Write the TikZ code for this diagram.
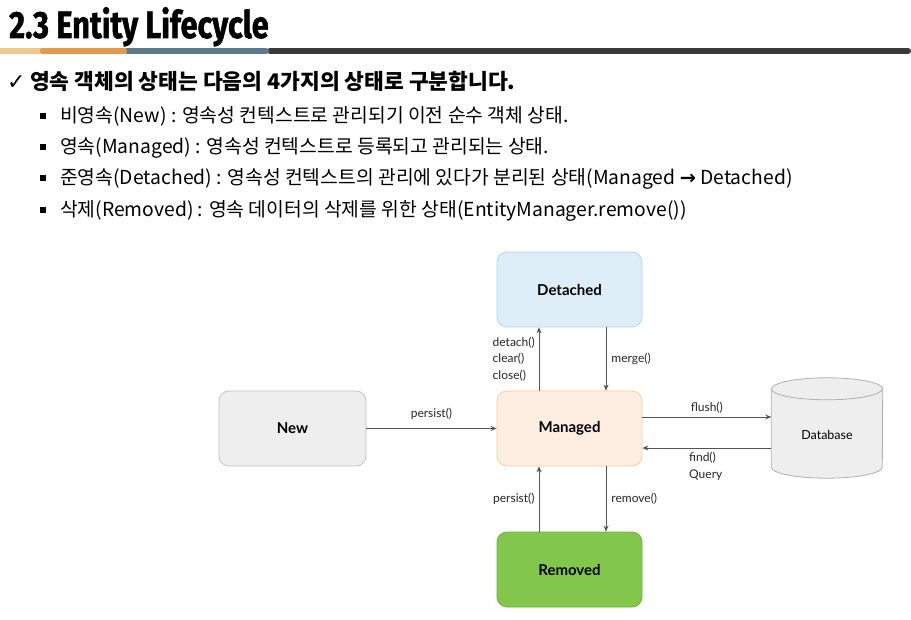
\documentclass[tikz,border=0pt]{standalone}
\usepackage{fontspec}
\setmainfont{Lato}
\newfontfamily\kr{Noto Sans CJK KR}
\newfontfamily\titlefont[FakeBold=1.5]{Fira Sans}
\newfontfamily\symfont{DejaVu Sans}
\usetikzlibrary{arrows.meta,calc}
\definecolor{arrowgray}{HTML}{555555}
\definecolor{detfill}{HTML}{DDEEF8}
\definecolor{detdraw}{HTML}{B3D7EE}
\definecolor{manfill}{HTML}{FDEEE1}
\definecolor{mandraw}{HTML}{F7CF9F}
\definecolor{newfill}{HTML}{EEEEEE}
\definecolor{newdraw}{HTML}{C4C4C4}
\definecolor{remfill}{HTML}{83C64C}
\definecolor{remdraw}{HTML}{6DB53C}
\definecolor{dbfill}{HTML}{EEEEEE}
\definecolor{dbdraw}{HTML}{B0B0B0}
\definecolor{barA}{HTML}{F0C98C}
\definecolor{barB}{HTML}{E09B4C}
\definecolor{barC}{HTML}{5B7B8D}
\definecolor{barD}{HTML}{3A3A3A}
\tikzset{
  state/.style={rounded corners=10pt, minimum width=145pt, minimum height=75pt,
    font=\fontsize{15}{18}\selectfont\bfseries, line width=0.8pt},
  arr/.style={draw=arrowgray, line width=0.9pt, -{Stealth[length=6pt,width=5pt]}},
  lbl/.style={font=\fontsize{12}{14}\selectfont, inner sep=0pt, text=black!85},
  head/.style={font=\kr\fontsize{19.3}{21}\selectfont, anchor=base west, inner sep=0pt},
  bul/.style={fill=black, minimum size=5.5pt, inner sep=0pt}
}
\begin{document}
\begin{tikzpicture}[x=1pt,y=-1pt]
\useasboundingbox[fill=white] (0,0) rectangle (911,620);
% title
\node[anchor=base west, inner sep=0pt, font=\titlefont\fontsize{38}{42}\selectfont\bfseries] (title) at (9,38) {\scalebox{0.81}[1]{2.3 Entity Lifecycle}};
% bar
\draw[barD, line width=6pt, line cap=round] (270,51) -- (908,51);
\draw[barC, line width=6pt, line cap=round] (127,51) -- (266,51);
\draw[barB, line width=6pt, line cap=round] (42,51) -- (124,51);
\draw[barA, line width=6pt] (0,51) -- (40,51);
% check line
\node[anchor=base west, inner sep=0pt, font=\symfont\fontsize{22}{24}\selectfont\bfseries] (chk) at (7,90) {✓};
\node[anchor=base west, inner sep=0pt, font=\kr\fontsize{21.5}{24}\selectfont\bfseries] (l0) at (30,90) {영속 객체의 상태는 다음의 4가지의 상태로 구분합니다.};
% bullets
\node[bul] (b1) at (43,116) {};
\node[bul] (b2) at (43,147) {};
\node[bul] (b3) at (43,178) {};
\node[bul] (b4) at (43,210) {};
\node[head] (l1) at (60,123) {비영속(New) : 영속성 컨텍스트로 관리되기 이전 순수 객체 상태.};
\node[head] (l2) at (60,154) {영속(Managed) : 영속성 컨텍스트로 등록되고 관리되는 상태.};
\node[head] (l3) at (60,185) {준영속(Detached) : 영속성 컨텍스트의 관리에 있다가 분리된 상태(Managed {\symfont\bfseries →} Detached)};
\node[head] (l4) at (60,217) {삭제(Removed) : 영속 데이터의 삭제를 위한 상태(EntityManager.remove())};
% states
\node[state, fill=detfill, draw=detdraw] (det) at (569.5,289.5) {Detached};
\node[state, fill=manfill, draw=mandraw] (man) at (569.5,428.5) {Managed};
\node[state, fill=newfill, draw=newdraw, minimum width=147pt] (new) at (292.5,428.5) {New};
\node[state, fill=remfill, draw=remdraw] (rem) at (569.5,569.5) {Removed};
% database
\node[minimum width=111pt, minimum height=100pt, inner sep=0pt] (db) at (827,428) {};
\draw[dbdraw, fill=dbfill, line width=0.8pt]
  ([yshift=-11pt]db.north west) -- ([yshift=11pt]db.south west)
  arc[start angle=180, end angle=360, x radius=55.5pt, y radius=11pt]
  -- ([yshift=-11pt]db.north east)
  arc[start angle=0, end angle=180, x radius=55.5pt, y radius=11pt] -- cycle;
\draw[dbdraw, line width=0.8pt] ([yshift=-11pt]db.north west)
  arc[start angle=180, end angle=360, x radius=55.5pt, y radius=11pt];
\node[font=\fontsize{12.5}{14}\selectfont, inner sep=0pt] (dbl) at ([yshift=-7pt]db.center) {Database};
% arrows
\draw[arr] (new.east) -- node[lbl, above=8pt] {persist()} (man.west);
\draw[arr] ([xshift=-30.5pt]man.north) -- ([xshift=-30.5pt]det.south);
\node[lbl, align=left, anchor=east] (dlab) at (535,359) {detach()\\[2.5pt]clear()\\[2.5pt]close()};
\draw[arr] ([xshift=36.5pt]det.south) -- node[lbl, right=5pt] {merge()} ([xshift=36.5pt]man.north);
\draw[arr] ([yshift=11.5pt]man.east) -- node[lbl, above=3.5pt] {flush()} ([yshift=11.5pt]man.east -| db.west);
\draw[arr] ([yshift=-19.5pt]man.east -| db.west) -- ([yshift=-19.5pt]man.east);
\node[lbl, align=left, anchor=north west] (flab) at (689,452) {find()\\[2.5pt]Query};
\draw[arr] ([xshift=-30.5pt]rem.north) -- node[lbl, left=4pt] {persist()} ([xshift=-30.5pt]man.south);
\draw[arr] ([xshift=36.5pt]man.south) -- node[lbl, right=5pt] {remove()} ([xshift=36.5pt]rem.north);
\end{tikzpicture}
\end{document}
